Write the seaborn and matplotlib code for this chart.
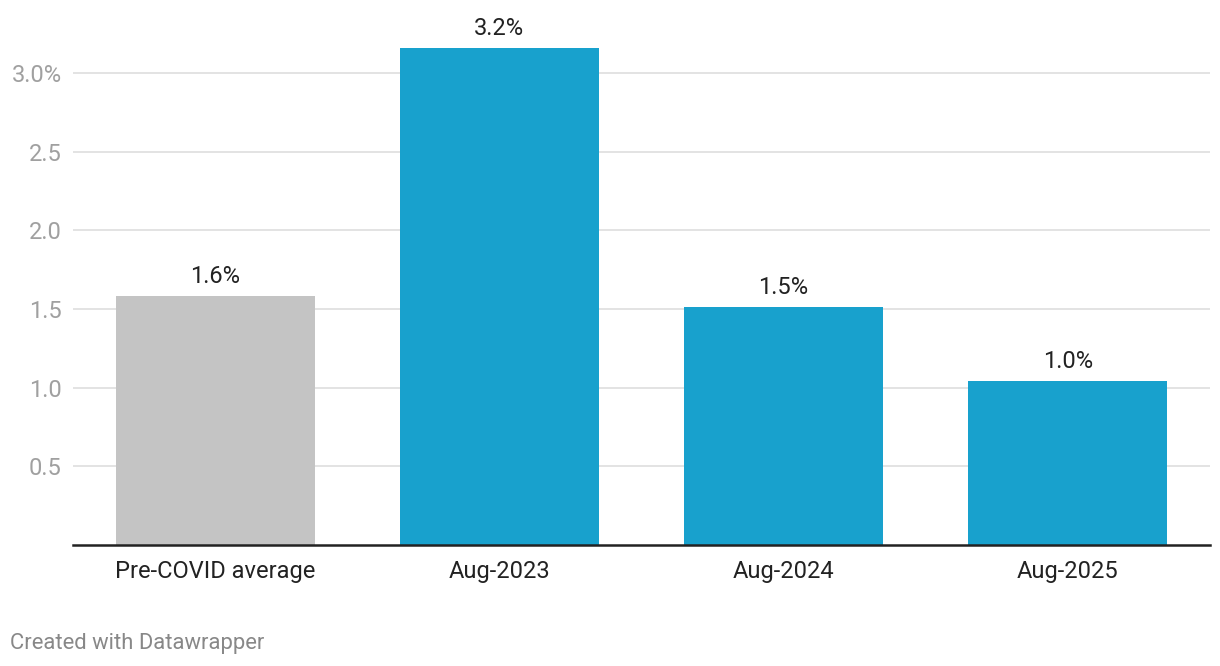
import matplotlib
matplotlib.use("Agg")
import matplotlib.pyplot as plt
import seaborn as sns
import pandas as pd

categories = ["Pre-COVID average", "Aug-2023", "Aug-2024", "Aug-2025"]
values = [1.58, 3.16, 1.51, 1.04]
value_labels = ["1.6%", "3.2%", "1.5%", "1.0%"]
bar_colors = ["#c4c4c4", "#18a1cd", "#18a1cd", "#18a1cd"]
y_ticks = [0.5, 1.0, 1.5, 2.0, 2.5, 3.0]
y_tick_labels = ["0.5", "1.0", "1.5", "2.0", "2.5", "3.0%"]

sns.set_theme(style="white")
plt.rcParams["font.family"] = ["Roboto", "DejaVu Sans"]

df = pd.DataFrame({"cat": categories, "val": values})

fig = plt.figure(figsize=(12.2, 6.66), dpi=100)
ax = fig.add_axes([73 / 1220, 121 / 666, (1210 - 73) / 1220, 3.3 * 157.3 / 666])

sns.barplot(data=df, x="cat", y="val", hue="cat", palette=bar_colors,
            order=categories, hue_order=categories, width=0.70,
            legend=False, ax=ax, saturation=1, zorder=3, linewidth=0)

ax.set_ylim(0, 3.3)
ax.set_xlim(-0.5, 3.5)
ax.set_yticks(y_ticks)
ax.set_yticklabels(y_tick_labels)
ax.yaxis.grid(True, color="#e0e0e0", linewidth=1.3, zorder=0)
ax.set_axisbelow(True)
for s in ["top", "right", "left"]:
    ax.spines[s].set_visible(False)
ax.spines["bottom"].set_color("#222222")
ax.spines["bottom"].set_linewidth(1.8)
ax.spines["bottom"].set_zorder(5)

ax.tick_params(axis="y", length=0, pad=8, labelsize=17, labelcolor="#a0a0a0")
ax.tick_params(axis="x", length=0, pad=11, labelsize=17, labelcolor="#222222")
ax.set_xlabel("")
ax.set_ylabel("")

for i, (v, lab) in enumerate(zip(values, value_labels)):
    ax.annotate(lab, xy=(i, v), xytext=(0, 6), textcoords="offset points",
                ha="center", va="bottom", fontsize=17, color="#222222")

fig.text(10 / 1220, 1 - 644 / 666, "Created with Datawrapper", ha="left", va="center",
         fontsize=15.8, color="#888888")

fig.savefig("out.png", dpi=100, facecolor="white")
